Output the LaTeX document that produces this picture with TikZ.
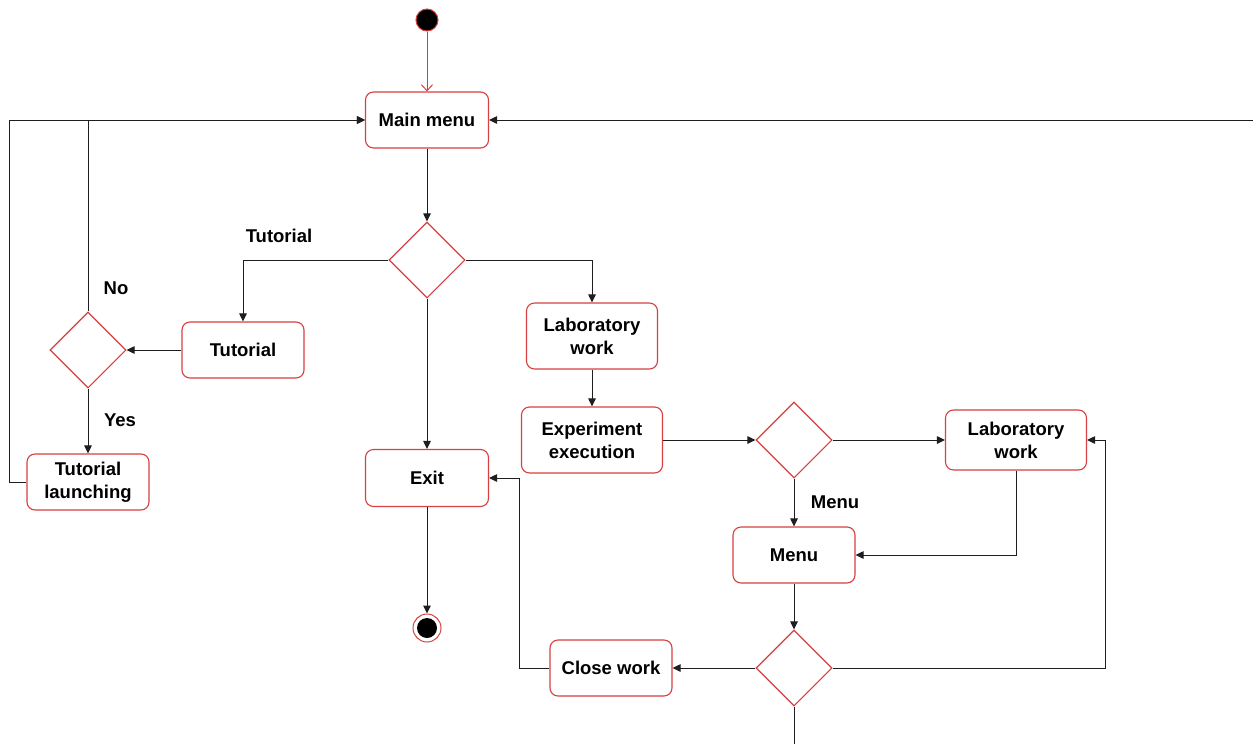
\documentclass[tikz,border=0pt]{standalone}
\usepackage{fontspec}
\setmainfont{Liberation Sans}
\usetikzlibrary{shapes.geometric,arrows.meta}
\definecolor{bred}{RGB}{214,64,64}
\definecolor{edge}{RGB}{30,30,30}
\begin{document}
\begin{tikzpicture}[x=1pt,y=-1pt,
 box/.style={draw=bred, line width=1.1pt, rounded corners=8pt, fill=white, align=center, font=\fontsize{18.5}{23}\selectfont\bfseries, inner sep=0pt},
 dec/.style={draw=bred, line width=1.1pt, diamond, aspect=1, minimum width=76pt, minimum height=76pt, inner sep=0pt, fill=white},
 lbl/.style={font=\fontsize{18.5}{23}\selectfont\bfseries, inner sep=0pt},
 flow/.style={draw=edge, line width=1pt},
 arr/.style={flow, -{Triangle[length=8pt,width=7.5pt]}},
 redarr/.style={draw=bred, line width=1pt, -{Straight Barb[length=6pt,width=11pt]}},
]
\useasboundingbox (0,0) rectangle (1253,744);
% nodes
\node[circle, fill=black, draw=bred, line width=1pt, minimum size=22pt, inner sep=0pt] (start) at (427,20) {};
\node[box, minimum width=123pt, minimum height=56pt] (main) at (427,120) {Main menu};
\node[dec] (d1) at (427,260) {};
\node[box, minimum width=122pt, minimum height=56pt] (tut) at (243,350) {Tutorial};
\node[dec] (d2) at (88,350) {};
\node[box, minimum width=122pt, minimum height=56pt] (tl) at (88,482) {Tutorial\\launching};
\node[box, minimum width=131pt, minimum height=66pt] (lab1) at (592,336) {Laboratory\\work};
\node[box, minimum width=141pt, minimum height=66pt] (exp) at (592,440) {Experiment\\execution};
\node[dec] (d3) at (794,440) {};
\node[box, minimum width=141pt, minimum height=60pt] (lab2) at (1016,440) {Laboratory\\work};
\node[box, minimum width=122pt, minimum height=56pt] (menu) at (794,555) {Menu};
\node[dec] (d4) at (794,668) {};
\node[box, minimum width=122pt, minimum height=56pt] (close) at (611,668) {Close work};
\node[box, minimum width=123pt, minimum height=57pt] (exit) at (427,478) {Exit};
\node[circle, draw=bred, line width=1pt, fill=white, minimum size=28pt, inner sep=0pt] (end) at (427,628) {};
\fill[black] (end.center) circle (10pt);
% labels
\node[lbl] (ltut) at (279,236) {Tutorial};
\node[lbl] (lno) at (116,288) {No};
\node[lbl] (lyes) at (120,420) {Yes};
\node[lbl] (lmenu) at (835,502) {Menu};
% free coordinates
\coordinate (tlc) at (9,482);
\coordinate (redge) at (1253,120);
\coordinate (cw) at (519,668);
\coordinate (dr) at (1105,668);
\coordinate (bot) at (794,744);
% edges
\draw[redarr] (start) -- (main);
\draw[arr] (main) -- (d1);
\draw[arr] (d1.west) -| (tut);
\draw[arr] (d1.east) -| (lab1);
\draw[arr] (d1) -- (exit);
\draw[arr] (tut) -- (d2);
\draw[arr] (d2.north) |- (main.west);
\draw[arr] (d2) -- (tl);
\draw[arr] (tl.west) -- (tlc) |- (main.west);
\draw[arr] (redge) -- (main.east);
\draw[arr] (lab1) -- (exp);
\draw[arr] (exp) -- (d3);
\draw[arr] (d3) -- (lab2);
\draw[arr] (d3) -- (menu);
\draw[arr] (lab2.south) |- (menu.east);
\draw[arr] (menu) -- (d4);
\draw[arr] (d4) -- (close);
\draw[arr] (close.west) -- (cw) |- (exit.east);
\draw[arr] (exit) -- (end);
\draw[arr] (d4.east) -- (dr) |- (lab2.east);
\draw[flow] (d4.south) -- (bot);
\end{tikzpicture}
\end{document}
